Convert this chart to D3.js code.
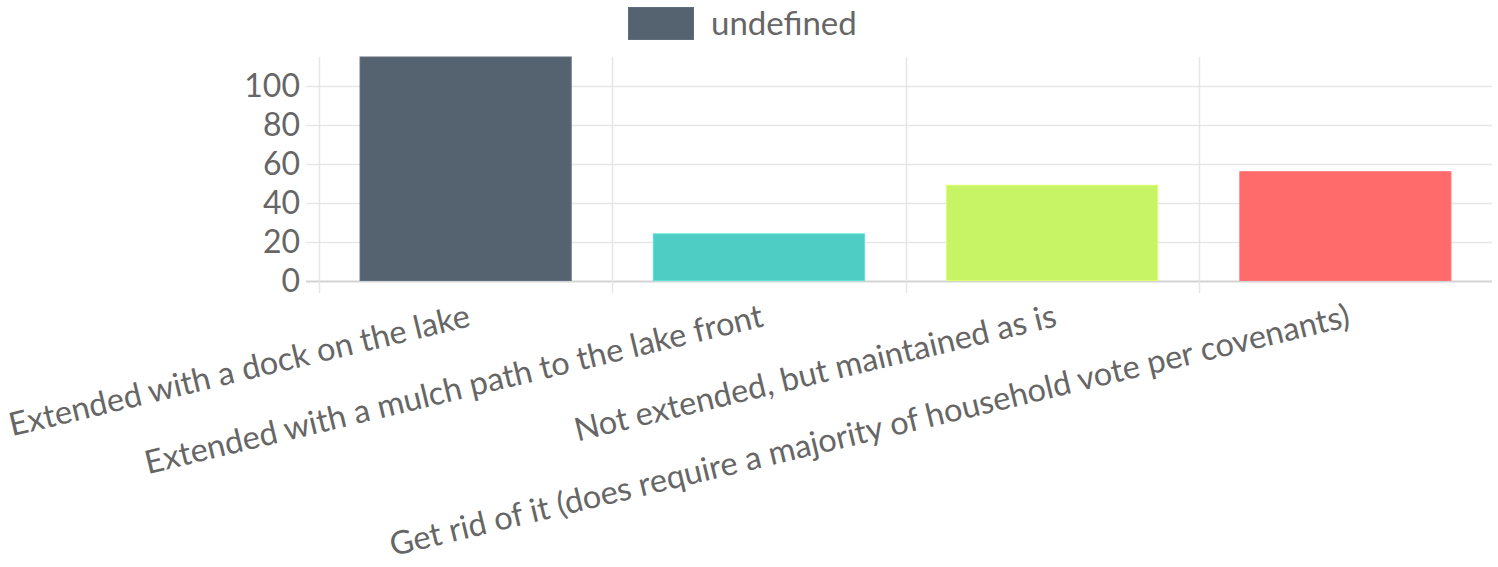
<!DOCTYPE html>
<html>
<head>
<meta charset="utf-8">
<script src="https://cdn.jsdelivr.net/npm/d3@7"></script>
<style>
  html, body { margin: 0; padding: 0; background: #fff; }
  svg { display: block; }
  text { font-family: Lato, "Open Sans", sans-serif; fill: #666; }
</style>
</head>
<body>
<svg id="chart" width="1498" height="567"></svg>
<script>
const categories = [
  "Extended with a dock on the lake",
  "Extended with a mulch path to the lake front",
  "Not extended, but maintained as is",
  "Get rid of it (does require a majority of household vote per covenants)"
];
const values = [115, 24, 49, 56];
const colors = ["#556270", "#4ECDC4", "#C7F464", "#FF6B6B"];
const yTicks = [0, 20, 40, 60, 80, 100];
const legendLabel = "undefined";

(function () {
const svg = d3.select("#chart");
const pLeft = 319, pRight = 1492, pTop = 57, pBottom = 280.5;
const fontSize = 33;
const labelFont = 32.5;
const tickFont = 32;

const x = d3.scaleBand().domain(categories).range([pLeft, pRight]).paddingInner(0.28).paddingOuter(0.14);
const xCat = d3.scaleBand().domain(categories).range([pLeft, pRight]);
const y = d3.scaleLinear().domain([0, 115]).range([pBottom, pTop]);

// horizontal grid
svg.append("g").selectAll("line").data(yTicks).join("line")
  .attr("x1", pLeft - 13).attr("x2", pRight)
  .attr("y1", d => Math.round(y(d)) + 0.5).attr("y2", d => Math.round(y(d)) + 0.5)
  .attr("stroke", d => d === 0 ? "#d4d4d4" : "#e6e6e6").attr("stroke-width", d => d === 0 ? 2 : 1.5);

// vertical grid
svg.append("g").selectAll("line").data(categories).join("line")
  .attr("x1", d => Math.round(xCat(d)) + 0.5).attr("x2", d => Math.round(xCat(d)) + 0.5)
  .attr("y1", pTop).attr("y2", 293)
  .attr("stroke", "#e6e6e6").attr("stroke-width", 1.5);

// bars
svg.append("g").selectAll("rect").data(values).join("rect")
  .attr("x", (d, i) => x(categories[i]))
  .attr("width", x.bandwidth())
  .attr("y", d => y(d))
  .attr("height", d => y(0) - y(d))
  .attr("fill", (d, i) => colors[i])
  .attr("stroke", (d, i) => d3.color(colors[i]).brighter(0.3))
  .attr("stroke-width", 1);

// y tick labels
svg.append("g").selectAll("text").data(yTicks).join("text")
  .attr("x", 300)
  .attr("y", d => y(d))
  .attr("dy", "0.35em")
  .attr("text-anchor", "end")
  .attr("font-size", tickFont)
  .text(d => d);

// x labels rotated
svg.append("g").selectAll("text").data(categories).join("text")
  .attr("text-anchor", "end")
  .attr("font-size", labelFont)
  .attr("transform", d => `translate(${xCat(d) + xCat.bandwidth() / 2 + 6},${326}) rotate(-13.5)`)
  .text(d => d);

// legend
svg.append("rect").attr("x", 628.5).attr("y", 7.5).attr("width", 65).attr("height", 32)
  .attr("fill", colors[0]).attr("stroke", d3.color(colors[0]).brighter(0.3)).attr("stroke-width", 1);
svg.append("text").attr("x", 711).attr("y", 23).attr("dy", "0.35em")
  .attr("font-size", fontSize).text(legendLabel);
})();
</script>
</body>
</html>
